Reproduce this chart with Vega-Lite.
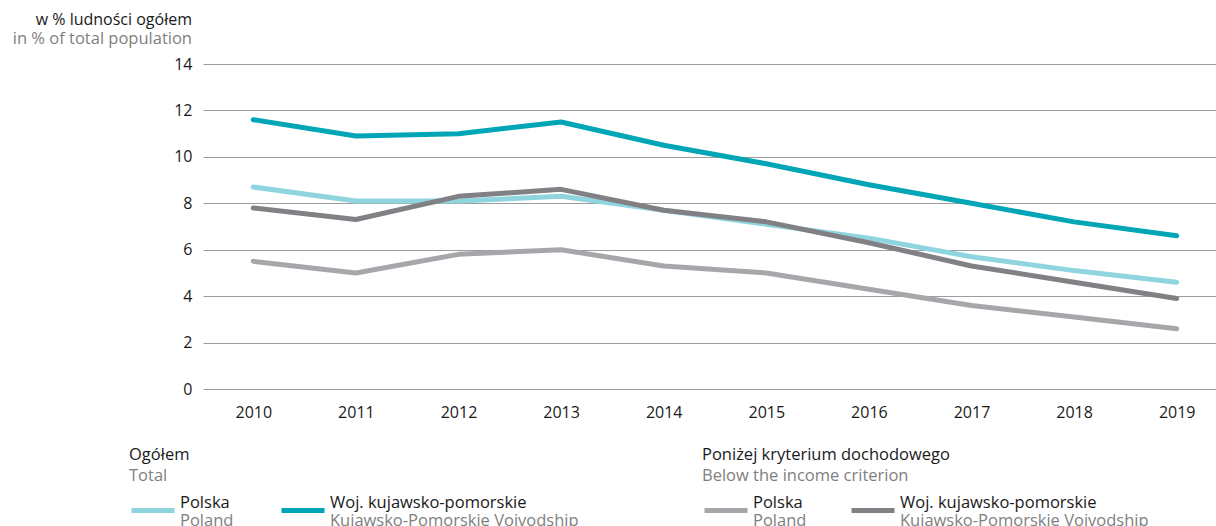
{
  "$schema": "https://vega.github.io/schema/vega-lite/v6.json",
  "autosize": "none",
  "padding": {"left": 203, "top": 64, "right": 0, "bottom": 137},
  "width": 1013,
  "height": 325,
  "config": {"font": "Open Sans", "view": {"stroke": null}},
  "title": {
    "text": "w % ludności ogółem",
    "subtitle": "in % of total population",
    "anchor": "start",
    "frame": "group",
    "align": "right",
    "dx": -11,
    "fontSize": 16,
    "fontWeight": "normal",
    "color": "#1a1a1a",
    "subtitleFontSize": 16.5,
    "subtitleColor": "#808080",
    "subtitlePadding": 3,
    "offset": 9
  },
  "data": {
    "values": [
      {"rok": 2010, "grupa": "ogolem", "pl": "Polska", "en": "Poland", "wartosc": 8.7},
      {"rok": 2011, "grupa": "ogolem", "pl": "Polska", "en": "Poland", "wartosc": 8.1},
      {"rok": 2012, "grupa": "ogolem", "pl": "Polska", "en": "Poland", "wartosc": 8.1},
      {"rok": 2013, "grupa": "ogolem", "pl": "Polska", "en": "Poland", "wartosc": 8.3},
      {"rok": 2014, "grupa": "ogolem", "pl": "Polska", "en": "Poland", "wartosc": 7.7},
      {"rok": 2015, "grupa": "ogolem", "pl": "Polska", "en": "Poland", "wartosc": 7.1},
      {"rok": 2016, "grupa": "ogolem", "pl": "Polska", "en": "Poland", "wartosc": 6.5},
      {"rok": 2017, "grupa": "ogolem", "pl": "Polska", "en": "Poland", "wartosc": 5.7},
      {"rok": 2018, "grupa": "ogolem", "pl": "Polska", "en": "Poland", "wartosc": 5.1},
      {"rok": 2019, "grupa": "ogolem", "pl": "Polska", "en": "Poland", "wartosc": 4.6},
      {"rok": 2010, "grupa": "ogolem", "pl": "Woj. kujawsko-pomorskie", "en": "Kujawsko-Pomorskie Voivodship", "wartosc": 11.6},
      {"rok": 2011, "grupa": "ogolem", "pl": "Woj. kujawsko-pomorskie", "en": "Kujawsko-Pomorskie Voivodship", "wartosc": 10.9},
      {"rok": 2012, "grupa": "ogolem", "pl": "Woj. kujawsko-pomorskie", "en": "Kujawsko-Pomorskie Voivodship", "wartosc": 11.0},
      {"rok": 2013, "grupa": "ogolem", "pl": "Woj. kujawsko-pomorskie", "en": "Kujawsko-Pomorskie Voivodship", "wartosc": 11.5},
      {"rok": 2014, "grupa": "ogolem", "pl": "Woj. kujawsko-pomorskie", "en": "Kujawsko-Pomorskie Voivodship", "wartosc": 10.5},
      {"rok": 2015, "grupa": "ogolem", "pl": "Woj. kujawsko-pomorskie", "en": "Kujawsko-Pomorskie Voivodship", "wartosc": 9.7},
      {"rok": 2016, "grupa": "ogolem", "pl": "Woj. kujawsko-pomorskie", "en": "Kujawsko-Pomorskie Voivodship", "wartosc": 8.8},
      {"rok": 2017, "grupa": "ogolem", "pl": "Woj. kujawsko-pomorskie", "en": "Kujawsko-Pomorskie Voivodship", "wartosc": 8.0},
      {"rok": 2018, "grupa": "ogolem", "pl": "Woj. kujawsko-pomorskie", "en": "Kujawsko-Pomorskie Voivodship", "wartosc": 7.2},
      {"rok": 2019, "grupa": "ogolem", "pl": "Woj. kujawsko-pomorskie", "en": "Kujawsko-Pomorskie Voivodship", "wartosc": 6.6},
      {"rok": 2010, "grupa": "ponizej", "pl": "Polska", "en": "Poland", "wartosc": 5.5},
      {"rok": 2011, "grupa": "ponizej", "pl": "Polska", "en": "Poland", "wartosc": 5.0},
      {"rok": 2012, "grupa": "ponizej", "pl": "Polska", "en": "Poland", "wartosc": 5.8},
      {"rok": 2013, "grupa": "ponizej", "pl": "Polska", "en": "Poland", "wartosc": 6.0},
      {"rok": 2014, "grupa": "ponizej", "pl": "Polska", "en": "Poland", "wartosc": 5.3},
      {"rok": 2015, "grupa": "ponizej", "pl": "Polska", "en": "Poland", "wartosc": 5.0},
      {"rok": 2016, "grupa": "ponizej", "pl": "Polska", "en": "Poland", "wartosc": 4.3},
      {"rok": 2017, "grupa": "ponizej", "pl": "Polska", "en": "Poland", "wartosc": 3.6},
      {"rok": 2018, "grupa": "ponizej", "pl": "Polska", "en": "Poland", "wartosc": 3.1},
      {"rok": 2019, "grupa": "ponizej", "pl": "Polska", "en": "Poland", "wartosc": 2.6},
      {"rok": 2010, "grupa": "ponizej", "pl": "Woj. kujawsko-pomorskie", "en": "Kujawsko-Pomorskie Voivodship", "wartosc": 7.8},
      {"rok": 2011, "grupa": "ponizej", "pl": "Woj. kujawsko-pomorskie", "en": "Kujawsko-Pomorskie Voivodship", "wartosc": 7.3},
      {"rok": 2012, "grupa": "ponizej", "pl": "Woj. kujawsko-pomorskie", "en": "Kujawsko-Pomorskie Voivodship", "wartosc": 8.3},
      {"rok": 2013, "grupa": "ponizej", "pl": "Woj. kujawsko-pomorskie", "en": "Kujawsko-Pomorskie Voivodship", "wartosc": 8.6},
      {"rok": 2014, "grupa": "ponizej", "pl": "Woj. kujawsko-pomorskie", "en": "Kujawsko-Pomorskie Voivodship", "wartosc": 7.7},
      {"rok": 2015, "grupa": "ponizej", "pl": "Woj. kujawsko-pomorskie", "en": "Kujawsko-Pomorskie Voivodship", "wartosc": 7.2},
      {"rok": 2016, "grupa": "ponizej", "pl": "Woj. kujawsko-pomorskie", "en": "Kujawsko-Pomorskie Voivodship", "wartosc": 6.3},
      {"rok": 2017, "grupa": "ponizej", "pl": "Woj. kujawsko-pomorskie", "en": "Kujawsko-Pomorskie Voivodship", "wartosc": 5.3},
      {"rok": 2018, "grupa": "ponizej", "pl": "Woj. kujawsko-pomorskie", "en": "Kujawsko-Pomorskie Voivodship", "wartosc": 4.6},
      {"rok": 2019, "grupa": "ponizej", "pl": "Woj. kujawsko-pomorskie", "en": "Kujawsko-Pomorskie Voivodship", "wartosc": 3.9}
    ]
  },
  "encoding": {
    "x": {
      "field": "rok",
      "type": "quantitative",
      "scale": {"domain": [2009.51, 2019.383], "nice": false, "zero": false},
      "axis": {
        "values": [2010, 2011, 2012, 2013, 2014, 2015, 2016, 2017, 2018, 2019],
        "format": "d",
        "grid": false,
        "domain": false,
        "ticks": false,
        "labelFontSize": 16,
        "labelColor": "#1a1a1a",
        "labelPadding": 15,
        "title": null
      }
    },
    "y": {
      "field": "wartosc",
      "type": "quantitative",
      "scale": {"domain": [0, 14], "nice": false},
      "axis": {
        "values": [0, 2, 4, 6, 8, 10, 12, 14],
        "grid": true,
        "gridColor": "#9d9d9d",
        "gridWidth": 1,
        "domain": false,
        "ticks": false,
        "labelFontSize": 16,
        "labelColor": "#1a1a1a",
        "labelPadding": 11,
        "title": null
      }
    }
  },
  "layer": [
    {
      "transform": [{"filter": "datum.grupa === 'ogolem'"}],
      "mark": {"type": "line", "strokeWidth": 5, "strokeCap": "round", "strokeJoin": "round"},
      "encoding": {
        "color": {
          "field": "pl",
          "type": "nominal",
          "scale": {"domain": ["Polska", "Woj. kujawsko-pomorskie"], "range": ["#8fd5df", "#00a6b5"]},
          "legend": {
            "orient": "none",
            "legendX": -74,
            "legendY": 383,
            "direction": "horizontal",
            "columns": 2,
            "padding": 0,
            "title": ["Ogółem", " "],
            "titleFontSize": 16.5,
            "titleFontWeight": "normal",
            "titleColor": "#1a1a1a",
            "titleLineHeight": 19,
            "titlePadding": 4,
            "titleLimit": 500,
            "labelFontSize": 16.5,
            "labelColor": "#1a1a1a",
            "labelBaseline": "bottom",
            "labelOffset": 3,
            "labelLimit": 500,
            "symbolType": "stroke",
            "symbolSize": 1849,
            "symbolStrokeWidth": 5,
            "columnPadding": 41
          }
        },
        "opacity": {
          "field": "en",
          "type": "ordinal",
          "scale": {"domain": ["Poland", "Kujawsko-Pomorskie Voivodship"], "range": [1, 1]},
          "legend": {
            "orient": "none",
            "legendX": -74,
            "legendY": 385,
            "direction": "horizontal",
            "columns": 2,
            "padding": 0,
            "title": [" ", "Total"],
            "titleFontSize": 16.5,
            "titleFontWeight": "normal",
            "titleColor": "#808080",
            "titleLineHeight": 19,
            "titlePadding": 4,
            "titleLimit": 500,
            "labelFontSize": 16.5,
            "labelColor": "#808080",
            "labelBaseline": "top",
            "labelOffset": 3,
            "labelLimit": 500,
            "symbolType": "stroke",
            "symbolSize": 1849,
            "symbolStrokeWidth": 5,
            "symbolStrokeColor": "transparent",
            "symbolOpacity": 0,
            "columnPadding": 37
          }
        }
      }
    },
    {
      "transform": [{"filter": "datum.grupa === 'ponizej'"}],
      "mark": {"type": "line", "strokeWidth": 5, "strokeCap": "round", "strokeJoin": "round"},
      "encoding": {
        "color": {
          "field": "pl",
          "type": "nominal",
          "scale": {"domain": ["Polska", "Woj. kujawsko-pomorskie"], "range": ["#a7a7ab", "#808085"]},
          "legend": {
            "orient": "none",
            "legendX": 499,
            "legendY": 383,
            "direction": "horizontal",
            "columns": 2,
            "padding": 0,
            "title": ["Poniżej kryterium dochodowego", " "],
            "titleFontSize": 16.5,
            "titleFontWeight": "normal",
            "titleColor": "#1a1a1a",
            "titleLineHeight": 19,
            "titlePadding": 4,
            "titleLimit": 500,
            "labelFontSize": 16.5,
            "labelColor": "#1a1a1a",
            "labelBaseline": "bottom",
            "labelOffset": 3,
            "labelLimit": 500,
            "symbolType": "stroke",
            "symbolSize": 1849,
            "symbolStrokeWidth": 5,
            "columnPadding": 38
          }
        },
        "opacity": {
          "field": "en",
          "type": "ordinal",
          "scale": {"domain": ["Poland", "Kujawsko-Pomorskie Voivodship"], "range": [1, 1]},
          "legend": {
            "orient": "none",
            "legendX": 499,
            "legendY": 385,
            "direction": "horizontal",
            "columns": 2,
            "padding": 0,
            "title": [" ", "Below the income criterion"],
            "titleFontSize": 16.5,
            "titleFontWeight": "normal",
            "titleColor": "#808080",
            "titleLineHeight": 19,
            "titlePadding": 4,
            "titleLimit": 500,
            "labelFontSize": 16.5,
            "labelColor": "#808080",
            "labelBaseline": "top",
            "labelOffset": 3,
            "labelLimit": 500,
            "symbolType": "stroke",
            "symbolSize": 1849,
            "symbolStrokeWidth": 5,
            "symbolStrokeColor": "transparent",
            "symbolOpacity": 0,
            "columnPadding": 34
          }
        }
      }
    }
  ],
  "resolve": {"scale": {"color": "independent", "opacity": "independent"}}
}
